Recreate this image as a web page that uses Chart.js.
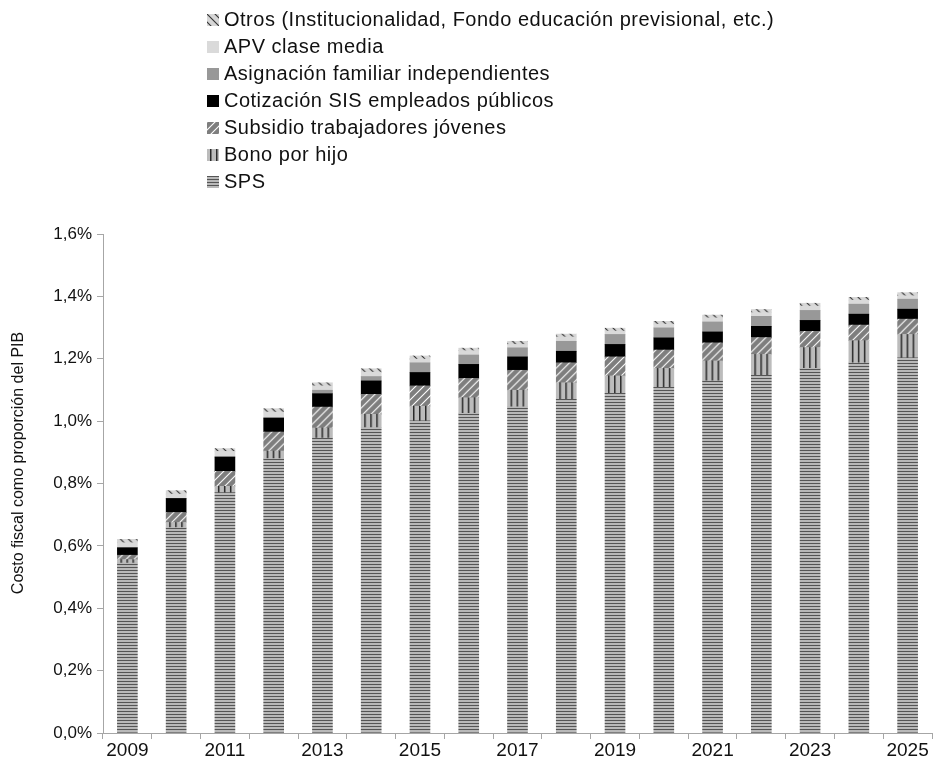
<!DOCTYPE html>
<html>
<head>
<meta charset="utf-8">
<script src="https://cdn.jsdelivr.net/npm/chart.js@4.4.1/dist/chart.umd.min.js"></script>
<style>
  html, body { margin: 0; padding: 0; background: #fff; }
  #wrap { position: relative; width: 935px; height: 759px; }
  #legend { position: absolute; left: 207px; top: 6px; font-family: "Liberation Sans", Arial, sans-serif; font-size: 20px; letter-spacing: 0.5px; color: #111; }
  #legend .item { height: 27px; line-height: 27px; white-space: nowrap; }
  #legend .sw { display: inline-block; width: 12px; height: 12px; margin-right: 5px; vertical-align: 0px; }
</style>
</head>
<body>
<div id="wrap">
  <canvas id="chart" width="935" height="759"></canvas>
  <div id="legend"></div>
</div>
<script>
const years = ['2009','2010','2011','2012','2013','2014','2015','2016','2017','2018','2019','2020','2021','2022','2023','2024','2025'];
const yTicks = [0, 0.2, 0.4, 0.6, 0.8, 1.0, 1.2, 1.4, 1.6];
const yTitle = 'Costo fiscal como proporción del PIB';

// % del PIB
const sps        = [0.545, 0.659, 0.771, 0.880, 0.946, 0.979, 1.001, 1.025, 1.046, 1.070, 1.089, 1.108, 1.129, 1.147, 1.169, 1.187, 1.203];
const bono       = [0.011, 0.016, 0.020, 0.024, 0.032, 0.043, 0.047, 0.050, 0.053, 0.053, 0.056, 0.061, 0.064, 0.067, 0.067, 0.071, 0.075];
const subsidio   = [0.014, 0.032, 0.048, 0.061, 0.067, 0.064, 0.065, 0.062, 0.064, 0.064, 0.061, 0.059, 0.058, 0.054, 0.052, 0.050, 0.049];
const cotizacion = [0.024, 0.045, 0.046, 0.045, 0.043, 0.043, 0.043, 0.045, 0.043, 0.037, 0.040, 0.039, 0.035, 0.036, 0.035, 0.035, 0.032];
const asignacion = [0, 0, 0, 0, 0.011, 0.014, 0.031, 0.030, 0.029, 0.032, 0.032, 0.032, 0.032, 0.032, 0.032, 0.032, 0.032];
const apv        = [0.016, 0.014, 0.018, 0.019, 0.014, 0.014, 0.012, 0.014, 0.011, 0.014, 0.011, 0.012, 0.013, 0.012, 0.014, 0.013, 0.011];
const otros      = [0.011, 0.011, 0.009, 0.011, 0.010, 0.011, 0.010, 0.008, 0.010, 0.009, 0.009, 0.009, 0.009, 0.010, 0.009, 0.009, 0.010];

const BAR_W = 20;
const FONT = '"Liberation Sans", Arial, sans-serif';

// small tile canvases for the hatch fills
function tile(kind) {
  let c = document.createElement('canvas');
  let g = c.getContext('2d');
  if (kind === 'sps') {
    c.width = 4; c.height = 3;
    g.fillStyle = '#b9b9b9'; g.fillRect(0, 0, 4, 3);
    g.fillStyle = '#555555'; g.fillRect(0, 0, 4, 1);
  } else if (kind === 'bono') {
    c.width = 6; c.height = 4;
    g.fillStyle = '#bcbcbc'; g.fillRect(0, 0, 6, 4);
    g.fillStyle = '#2a2a2a'; g.fillRect(3, 0, 1.5, 4);
  } else if (kind === 'subsidio') {
    c.width = 8; c.height = 8;
    g.fillStyle = '#7e7e7e'; g.fillRect(0, 0, 8, 8);
    g.strokeStyle = '#ffffff'; g.lineWidth = 1.1;
    g.beginPath();
    g.moveTo(-1, 9); g.lineTo(9, -1);
    g.moveTo(-1, 1); g.lineTo(1, -1);
    g.moveTo(7, 9); g.lineTo(9, 7);
    g.stroke();
  } else if (kind === 'otros') {
    c.width = 8; c.height = 8;
    g.fillStyle = '#d6d6d6'; g.fillRect(0, 0, 8, 8);
    g.strokeStyle = '#333333'; g.lineWidth = 1.1;
    g.beginPath();
    g.moveTo(-1, -1); g.lineTo(9, 9);
    g.moveTo(7, -1); g.lineTo(9, 1);
    g.moveTo(-1, 7); g.lineTo(1, 9);
    g.stroke();
  }
  return c;
}

const tiles = {
  sps: tile('sps'),
  bono: tile('bono'),
  subsidio: tile('subsidio'),
  otros: tile('otros')
};

// pattern anchored at the left edge of each bar so stripes line up like the original
function barFill(kind) {
  return function(ctx) {
    let chart = ctx.chart;
    let pat = chart.ctx.createPattern(tiles[kind], 'repeat');
    if (ctx.type === 'data' && chart.scales && chart.scales.x) {
      let x = chart.scales.x.getPixelForValue(ctx.dataIndex) - BAR_W / 2;
      pat.setTransform(new DOMMatrix().translate(x, 0));
    }
    return pat;
  };
}

const series = [
  { label: 'SPS', data: sps, fill: barFill('sps'), swatch: tiles.sps },
  { label: 'Bono por hijo', data: bono, fill: barFill('bono'), swatch: tiles.bono },
  { label: 'Subsidio trabajadores jóvenes', data: subsidio, fill: barFill('subsidio'), swatch: tiles.subsidio },
  { label: 'Cotización SIS empleados públicos', data: cotizacion, fill: '#000000' },
  { label: 'Asignación familiar independientes', data: asignacion, fill: '#989898' },
  { label: 'APV clase media', data: apv, fill: '#dadada' },
  { label: 'Otros (Institucionalidad, Fondo educación previsional, etc.)', data: otros, fill: barFill('otros'), swatch: tiles.otros }
];

// legend, top to bottom in reverse stack order
let legendEl = document.getElementById('legend');
series.slice().reverse().forEach(function(s) {
  let item = document.createElement('div');
  item.className = 'item';
  let sw = document.createElement('span');
  sw.className = 'sw';
  if (s.swatch) {
    sw.style.backgroundImage = 'url(' + s.swatch.toDataURL() + ')';
  } else {
    sw.style.background = s.fill;
  }
  item.appendChild(sw);
  item.appendChild(document.createTextNode(s.label));
  legendEl.appendChild(item);
});

// y title sits a bit above the middle of the axis in the original
const yTitlePlugin = {
  id: 'yTitle',
  afterDraw(chart) {
    let c = chart.ctx;
    c.save();
    c.translate(19, 463);
    c.rotate(-Math.PI / 2);
    c.font = '16px ' + FONT;
    c.fillStyle = '#111';
    c.textAlign = 'center';
    c.textBaseline = 'middle';
    c.fillText(yTitle, 0, 0);
    c.restore();
  }
};

const axisGray = '#a6a6a6';

new Chart(document.getElementById('chart'), {
  type: 'bar',
  data: {
    labels: years,
    datasets: series.map(function(s) {
      return {
        label: s.label,
        data: s.data,
        backgroundColor: s.fill,
        borderWidth: 0,
        barThickness: BAR_W
      };
    })
  },
  options: {
    responsive: false,
    animation: false,
    events: [],
    layout: { padding: { top: 234, right: 3, left: 0, bottom: 0 } },
    plugins: {
      legend: { display: false },
      tooltip: { enabled: false }
    },
    scales: {
      x: {
        stacked: true,
        grid: { offset: true, drawOnChartArea: false, drawTicks: true, tickLength: 6, color: axisGray },
        border: { color: axisGray, width: 1 },
        ticks: {
          autoSkip: false,
          maxRotation: 0,
          padding: 0,
          color: '#111',
          font: { family: FONT, size: 19 },
          callback: function(v, i) { return i % 2 === 0 ? years[i] : ''; }
        },
        afterFit: function(scale) { scale.height = 26; }
      },
      y: {
        stacked: true,
        min: 0,
        max: 1.6,
        afterBuildTicks: function(scale) { scale.ticks = yTicks.map(function(v) { return { value: v }; }); },
        grid: { drawOnChartArea: false, drawTicks: true, tickLength: 6, color: axisGray },
        border: { color: axisGray, width: 1 },
        ticks: {
          padding: 5,
          color: '#111',
          font: { family: FONT, size: 17 },
          callback: function(v) { return v.toFixed(1).replace('.', ',') + '%'; }
        },
        afterFit: function(scale) { scale.width = 103; }
      }
    }
  },
  plugins: [yTitlePlugin]
});
</script>
</body>
</html>
